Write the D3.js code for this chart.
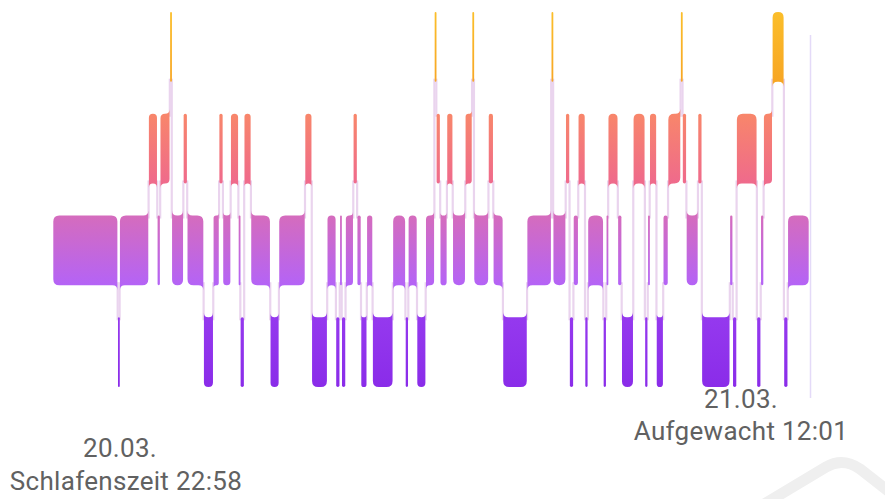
<!DOCTYPE html>
<html>
<head>
<meta charset="utf-8">
<script src="https://cdn.jsdelivr.net/npm/d3@7"></script>
<style>
  body { margin: 0; background: #fff; }
  svg { display: block; }
</style>
</head>
<body>
<svg id="chart"></svg>
<script>
// Sleep stages, top to bottom
const levels = ["wach", "rem", "leicht", "tief"];

// stage of each phase, in order of the night
const stages = [
	"leicht", "tief", "leicht", "rem", "leicht", "rem", "wach", "leicht", "rem", "leicht",
	"tief", "leicht", "rem", "leicht", "rem", "leicht", "tief", "rem", "leicht", "tief",
	"leicht", "rem", "tief", "leicht", "tief", "leicht", "tief", "leicht", "rem", "leicht",
	"tief", "leicht", "tief", "leicht", "tief", "leicht", "tief", "leicht", "wach", "rem",
	"leicht", "rem", "leicht", "rem", "wach", "leicht", "rem", "leicht", "tief", "leicht",
	"wach", "leicht", "rem", "tief", "leicht", "rem", "tief", "leicht", "tief", "leicht",
	"rem", "leicht", "tief", "rem", "tief", "leicht", "rem", "tief", "leicht", "rem",
	"wach", "rem", "leicht", "rem", "tief", "leicht", "tief", "rem", "tief", "leicht",
	"rem", "wach", "tief", "leicht"
];

// start of each phase, minutes after 22:58
const starts = [
	0, 67, 69, 99, 108, 111, 121, 123, 135, 139,
	156, 166, 172, 176, 184, 192, 194, 198, 205, 225,
	234, 261, 268, 284, 293, 297, 299, 303, 311, 315,
	319, 325, 331, 352, 365, 368, 377, 386, 395, 397,
	401, 408, 414, 427, 434, 436, 451, 456, 466, 491,
	516, 518, 531, 535, 539, 544, 551, 554, 570, 573,
	575, 585, 589, 601, 613, 616, 618, 625, 632, 637,
	650, 652, 656, 668, 672, 701, 704, 708, 729, 733,
	736, 745, 757, 761
];

// 22:58 -> 12:01
const totalMinutes = 783;

const startLabels = ["20.03.", "Schlafenszeit 22:58"];
const endLabels = ["21.03.", "Aufgewacht 12:01"];

// colours per stage: [top, bottom]
const stageColors = {
	wach: ["#fbbe2a", "#f7a624"],
	rem: ["#f8866a", "#ef6a8c"],
	leicht: ["#d56cbd", "#b463f6"],
	tief: ["#9539ee", "#8a2ce9"]
};

const width = 885;
const height = 499;

const svg = d3.select("#chart").attr("width", width).attr("height", height);

const x = d3.scaleLinear().domain([0, totalMinutes]).range([53, 809]);
const y = d3.scaleBand().domain(levels).range([12, 387]).paddingInner(0.315);
const bw = y.bandwidth();

// phases, with the level of their neighbours
const phases = stages.map((s, i) => ({
	stage: s,
	lv: levels.indexOf(s),
	prev: i > 0 ? levels.indexOf(stages[i - 1]) : null,
	next: i + 1 < stages.length ? levels.indexOf(stages[i + 1]) : null,
	start: starts[i],
	end: i + 1 < starts.length ? starts[i + 1] : totalMinutes
}));

// gradients
const defs = svg.append("defs");
levels.forEach((lv) => {
	const g = defs.append("linearGradient")
		.attr("id", "grad-" + lv)
		.attr("gradientUnits", "userSpaceOnUse")
		.attr("x1", 0).attr("x2", 0)
		.attr("y1", y(lv)).attr("y2", y(lv) + bw);
	g.append("stop").attr("offset", "0%").attr("stop-color", stageColors[lv][0]);
	g.append("stop").attr("offset", "100%").attr("stop-color", stageColors[lv][1]);
});

// faint shape bottom right
svg.append("path")
	.attr("d", "M766,503 L826,467 Q843,457 860,469 L892,494")
	.attr("fill", "none")
	.attr("stroke", "#efefef")
	.attr("stroke-width", 11)
	.attr("stroke-linecap", "round");

// connectors between phases
const links = phases.slice(1).map((p) => {
	const upper = levels[Math.min(p.prev, p.lv)];
	const lower = levels[Math.max(p.prev, p.lv)];
	return { t: p.start, y1: y(upper) + bw - 3, y2: y(lower) + 3 };
});

svg.append("g")
	.selectAll("line")
	.data(links)
	.enter()
	.append("line")
	.attr("x1", (d) => x(d.t))
	.attr("x2", (d) => x(d.t))
	.attr("y1", (d) => d.y1)
	.attr("y2", (d) => d.y2)
	.attr("stroke", "#ead4ee")
	.attr("stroke-width", 2.2);

// end marker
svg.append("line")
	.attr("x1", x(totalMinutes) + 1.5)
	.attr("x2", x(totalMinutes) + 1.5)
	.attr("y1", 35)
	.attr("y2", 398)
	.attr("stroke", "#e4daf8")
	.attr("stroke-width", 1.5);

// bar with rounded corners, square + flared where a connector leaves
function barPath(d) {
	const x0 = x(d.start) + 0.3;
	const x1 = Math.max(x(d.end) - 0.3, x0 + 1.8);
	const w = x1 - x0;
	const t = y(d.stage);
	const b = t + bw;
	const r = Math.min(6, w / 2);
	const f = w >= 5 ? Math.min(5, w / 2) : 0;
	let tl = r, tr = r, br = r, bl = r;
	let extra = "";
	if (d.prev !== null && f) {
		if (d.prev < d.lv) {
			tl = 0;
			extra += `M${x0},${t - f}Q${x0},${t} ${x0 + f},${t}L${x0},${t}Z`;
		} else {
			bl = 0;
			extra += `M${x0},${b + f}Q${x0},${b} ${x0 + f},${b}L${x0},${b}Z`;
		}
	}
	if (d.next !== null && f) {
		if (d.next < d.lv) {
			tr = 0;
			extra += `M${x1},${t - f}Q${x1},${t} ${x1 - f},${t}L${x1},${t}Z`;
		} else {
			br = 0;
			extra += `M${x1},${b + f}Q${x1},${b} ${x1 - f},${b}L${x1},${b}Z`;
		}
	}
	return `M${x0 + tl},${t}H${x1 - tr}Q${x1},${t} ${x1},${t + tr}` +
		`V${b - br}Q${x1},${b} ${x1 - br},${b}H${x0 + bl}` +
		`Q${x0},${b} ${x0},${b - bl}V${t + tl}Q${x0},${t} ${x0 + tl},${t}Z` + extra;
}

// phase bars
svg.append("g")
	.selectAll("path")
	.data(phases)
	.enter()
	.append("path")
	.attr("d", barPath)
	.attr("fill", (d) => "url(#grad-" + d.stage + ")");

// labels
const labelStyle = (t) => t
	.attr("font-family", "Roboto, sans-serif")
	.attr("font-size", "26px")
	.attr("letter-spacing", "0.3px")
	.attr("fill", "#616161")
	.attr("text-anchor", "middle");

svg.append("text").call(labelStyle).attr("x", 120).attr("y", 457).text(startLabels[0]);
svg.append("text").call(labelStyle).attr("x", 126).attr("y", 490).text(startLabels[1]);
svg.append("text").call(labelStyle).attr("x", 741).attr("y", 408).text(endLabels[0]);
svg.append("text").call(labelStyle).attr("x", 741).attr("y", 440).text(endLabels[1]);
</script>
</body>
</html>
